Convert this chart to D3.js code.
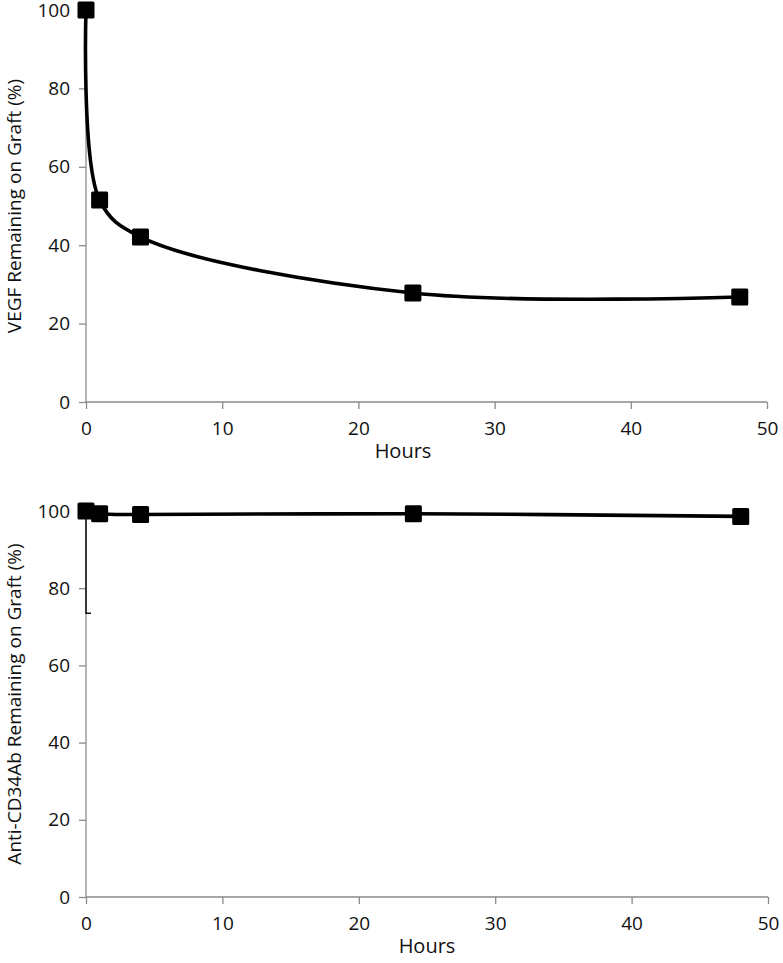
<!DOCTYPE html>
<html>
<head>
<meta charset="utf-8">
<script src="https://cdn.jsdelivr.net/npm/d3@7"></script>
<style>
  body { margin: 0; background: #fff; }
  text { font-family: "Open Sans", "Noto Sans", sans-serif; fill: #111; }
</style>
</head>
<body>
<div id="chart"></div>
<script>
// data
var hours = [0, 1, 4, 24, 48];
var vegfRemaining = [100, 51.5, 42.1, 27.8, 26.8];
var antiCd34Remaining = [100, 99.3, 99.1, 99.3, 98.6];
var antiCd34ErrLow = [73.5, null, null, null, null];  // only the first point has a visible bar
var xTicks = [0, 10, 20, 30, 40, 50];
var yTicks = [0, 20, 40, 60, 80, 100];

var W = 783, H = 963;

var svg = d3.select("#chart").append("svg")
  .attr("width", W)
  .attr("height", H);

// one panel, used twice
function drawPanel(opts) {
  var x = d3.scaleLinear().domain([0, 50]).range([opts.x0, opts.x1]);
  var y = d3.scaleLinear().domain([0, 100]).range([opts.y0, opts.y1]);

  var g = svg.append("g");

  // y axis
  var yAx = g.append("g")
    .attr("transform", "translate(" + opts.x0 + ",0)")
    .call(d3.axisLeft(y).tickValues(yTicks).tickSize(7).tickPadding(9));
  // x axis
  var xAx = g.append("g")
    .attr("transform", "translate(0," + opts.y0 + ")")
    .call(d3.axisBottom(x).tickValues(xTicks).tickSize(7).tickPadding(13));

  [yAx, xAx].forEach(function(ax) {
    ax.select(".domain").attr("stroke", "#8a8a8a").attr("stroke-width", 1.3);
    ax.selectAll(".tick line").attr("stroke", "#8a8a8a").attr("stroke-width", 1.3);
    ax.selectAll(".tick text")
      .style("font-family", "'Open Sans', 'Noto Sans', sans-serif")
      .style("font-size", "19px")
      .attr("fill", "#111");
  });
  // kill the outer tick stubs d3 adds to the domain path
  yAx.select(".domain").attr("d", "M0," + opts.y0 + "V" + opts.y1);
  xAx.select(".domain").attr("d", "M" + opts.x0 + ",0H" + opts.x1);

  // axis titles
  g.append("text")
    .attr("x", opts.hoursX)
    .attr("y", opts.y0 + 56)
    .attr("text-anchor", "middle")
    .style("font-size", "20px")
    .text("Hours");

  g.append("text")
    .attr("transform", "translate(" + 21 + "," + ((opts.y0 + opts.y1) / 2) + ") rotate(-90)")
    .attr("text-anchor", "middle")
    .style("font-size", "19px")
    .text(opts.yTitle);

  var pts = hours.map(function(h, i) { return {h: h, v: opts.values[i], lo: opts.errLow ? opts.errLow[i] : null}; });

  // error bars
  g.selectAll(".err")
    .data(pts.filter(function(d) { return d.lo != null; }))
    .enter().append("path")
    .attr("class", "err")
    .attr("fill", "none")
    .attr("stroke", "#111")
    .attr("stroke-width", 1.5)
    .attr("d", function(d) {
      return "M" + x(d.h) + "," + y(d.v) + "V" + y(d.lo) + "h5";
    });

  // smoothed line
  var line = d3.line()
    .x(function(d) { return x(d.h); })
    .y(function(d) { return y(d.v); })
    .curve(d3.curveCatmullRom.alpha(0.5));

  g.append("path")
    .datum(pts)
    .attr("fill", "none")
    .attr("stroke", "#000")
    .attr("stroke-width", 3.6)
    .attr("d", line);

  // square markers
  var s = 17;
  g.selectAll(".mk")
    .data(pts)
    .enter().append("rect")
    .attr("class", "mk")
    .attr("x", function(d) { return x(d.h) - s / 2; })
    .attr("y", function(d) { return y(d.v) - s / 2; })
    .attr("width", s)
    .attr("height", s)
    .attr("rx", 1.5)
    .attr("fill", "#000");
}

drawPanel({
  x0: 86, x1: 767, y0: 402, y1: 10,
  values: vegfRemaining,
  yTitle: "VEGF Remaining on Graft (%)",
  hoursX: 403
});

drawPanel({
  x0: 86, x1: 768, y0: 897, y1: 511,
  values: antiCd34Remaining,
  errLow: antiCd34ErrLow,
  yTitle: "Anti-CD34Ab Remaining on Graft (%)",
  hoursX: 427
});
</script>
</body>
</html>
